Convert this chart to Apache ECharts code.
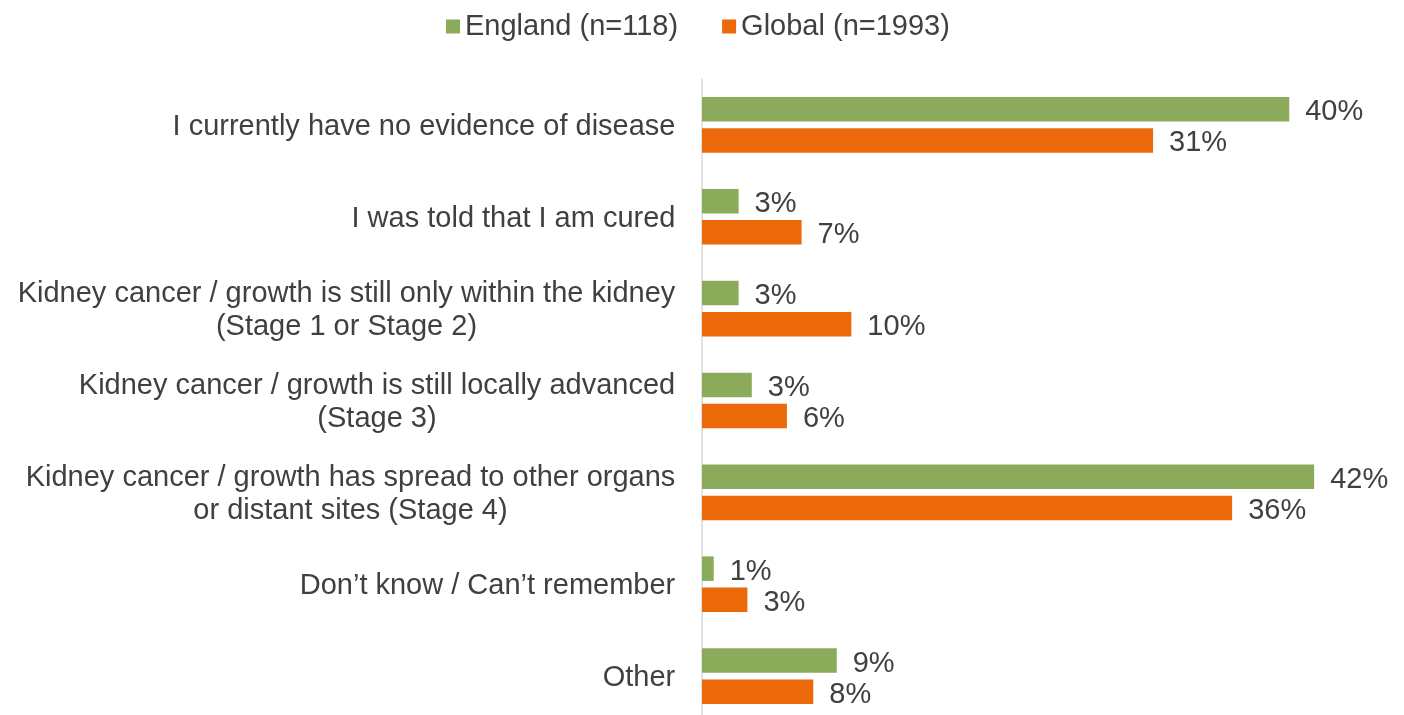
<!DOCTYPE html>
<html>
<head>
<meta charset="utf-8">
<script src="https://cdn.jsdelivr.net/npm/echarts@6/dist/echarts.min.js"></script>
<style>
  html, body { margin: 0; padding: 0; background: #fff; }
  #chart { width: 1404px; height: 715px; }
</style>
</head>
<body>
<div id="chart"></div>
<script>
// categories, top to bottom
var categories = [
  'I currently have no evidence of disease',
  'I was told that I am cured',
  'Kidney cancer / growth is still only within the kidney\n(Stage 1 or Stage 2)',
  'Kidney cancer / growth is still locally advanced\n(Stage 3)',
  'Kidney cancer / growth has spread to other organs\nor distant sites (Stage 4)',
  'Don\u2019t know / Can\u2019t remember',
  'Other'
]
var seriesNames = ['England (n=118)', 'Global (n=1993)']
// percentages (labels show them rounded)
var englandValues = [40.1, 2.5, 2.5, 3.4, 41.8, 0.8, 9.2]
var globalValues = [30.8, 6.8, 10.2, 5.8, 36.2, 3.1, 7.6]

var FONT = '"Liberation Sans", Arial, sans-serif'
var textColor = '#404040'

/* width of the longest line of each label, so the lines can be centred in a block */
var ctx = document.createElement('canvas').getContext('2d')
ctx.font = '29px ' + FONT
var rich = {}
categories.forEach(function (c, i) {
  var w = 0
  c.split('\n').forEach(function (line) {
    w = Math.max(w, ctx.measureText(line).width)
  })
  rich['c' + i] = {width: Math.ceil(w) + 1, align: 'center', fontSize: 29, fontFamily: FONT, color: textColor, lineHeight: 33}
})

var valueLabel = {
  show: true,
  position: 'right',
  distance: 16,
  offset: [0, 3],
  fontSize: 29,
  fontFamily: FONT,
  color: textColor,
  formatter: function (p) { return Math.round(p.value) + '%' }
}

var chart = echarts.init(document.getElementById('chart'))
chart.setOption({
  backgroundColor: '#fff',
  textStyle: {fontFamily: FONT},
  legend: {
    data: seriesNames,
    left: 441,
    top: 7,
    itemWidth: 14,
    itemHeight: 14,
    itemGap: 44,
    icon: 'rect',
    textStyle: {fontSize: 29, color: textColor, fontFamily: FONT}
  },
  grid: {left: 702, top: 79, width: 659, height: 643, containLabel: false, outerBoundsMode: 'none'},
  xAxis: {
    type: 'value',
    min: 0,
    max: 45,
    show: false
  },
  yAxis: {
    type: 'category',
    inverse: true,
    data: categories,
    axisLine: {show: true, lineStyle: {color: '#d9d9d9', width: 1.5}},
    axisTick: {show: false},
    axisLabel: {
      margin: 26,
      padding: [4, 0, 0, 0],
      formatter: function (value, idx) {
        return value.split('\n').map(function (line) {
          return '{c' + idx + '|' + line + '}'
        }).join('\n')
      },
      rich: rich
    }
  },
  series: [{
    name: seriesNames[0],
    type: 'bar',
    data: englandValues,
    barWidth: 24.5,
    barGap: '27%',
    itemStyle: {color: '#8BAB5A'},
    label: valueLabel
  }, {
    name: seriesNames[1],
    type: 'bar',
    data: globalValues,
    barWidth: 24.5,
    barGap: '27%',
    itemStyle: {color: '#EB6909'},
    label: valueLabel
  }]
})
</script>
</body>
</html>
